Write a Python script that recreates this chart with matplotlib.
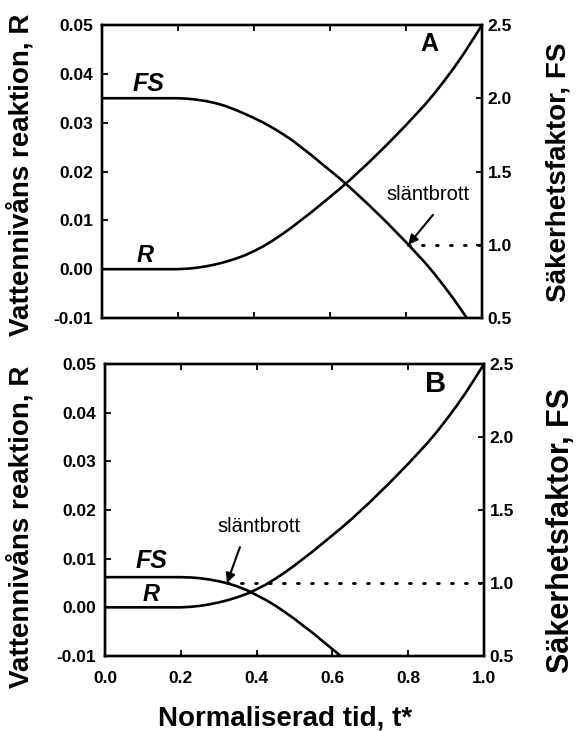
import matplotlib
matplotlib.use("Agg")
import matplotlib.pyplot as plt

plt.rcParams['font.family'] = ['Liberation Sans', 'DejaVu Sans']

# Normalised time grid and water-level response R (same in both cases)
t = [0.000, 0.050, 0.100, 0.150, 0.200, 0.225, 0.250, 0.275, 0.300, 0.325,
     0.350, 0.375, 0.400, 0.425, 0.450, 0.475, 0.500, 0.525, 0.550, 0.575,
     0.600, 0.625, 0.650, 0.675, 0.700, 0.725, 0.750, 0.775, 0.800, 0.825,
     0.850, 0.875, 0.900, 0.925, 0.950, 0.975, 1.000]
r = [0.0000, 0.0000, 0.0000, 0.0000, 0.0000, 0.0001, 0.0003, 0.0006, 0.0010,
     0.0015, 0.0021, 0.0028, 0.0037, 0.0047, 0.0059, 0.0072, 0.0086, 0.0101,
     0.0116, 0.0132, 0.0148, 0.0164, 0.0181, 0.0199, 0.0217, 0.0236, 0.0255,
     0.0275, 0.0295, 0.0316, 0.0337, 0.0360, 0.0385, 0.0411, 0.0439, 0.0469,
     0.0500]

# Factor of safety, case A
t_fs_a = [0.000, 0.050, 0.100, 0.150, 0.200, 0.225, 0.250, 0.275, 0.300,
          0.325, 0.350, 0.375, 0.400, 0.425, 0.450, 0.475, 0.500, 0.525,
          0.550, 0.575, 0.600, 0.625, 0.650, 0.675, 0.700, 0.725, 0.750,
          0.775, 0.800, 0.825, 0.850, 0.875, 0.900, 0.925, 0.950, 0.960]
fs_a = [2.000, 2.000, 2.000, 2.000, 2.000, 1.997, 1.990, 1.980, 1.966, 1.947,
        1.922, 1.895, 1.865, 1.833, 1.797, 1.757, 1.714, 1.664, 1.614, 1.560,
        1.507, 1.454, 1.397, 1.337, 1.277, 1.214, 1.151, 1.084, 1.018, 0.948,
        0.878, 0.801, 0.718, 0.631, 0.538, 0.500]

# Factor of safety, case B
t_fs_b = [0.000, 0.050, 0.100, 0.150, 0.200, 0.225, 0.250, 0.275, 0.300,
          0.325, 0.350, 0.375, 0.400, 0.425, 0.450, 0.475, 0.500, 0.525,
          0.550, 0.575, 0.600, 0.622]
fs_b = [1.040, 1.040, 1.040, 1.040, 1.040, 1.038, 1.033, 1.024, 1.012, 0.997,
        0.976, 0.950, 0.917, 0.883, 0.844, 0.800, 0.754, 0.704, 0.654, 0.600,
        0.547, 0.500]

# Failure points (FS = 1)
fail_t = [0.806, 0.322]
fail_fs = 1.0

r_ticks = [-0.01, 0.00, 0.01, 0.02, 0.03, 0.04, 0.05]
r_labels = ['-0.01', '0.00', '0.01', '0.02', '0.03', '0.04', '0.05']
fs_ticks = [0.5, 1.0, 1.5, 2.0, 2.5]
fs_labels = ['0.5', '1.0', '1.5', '2.0', '2.5']
t_ticks = [0.0, 0.2, 0.4, 0.6, 0.8, 1.0]
t_labels = ['0.0', '0.2', '0.4', '0.6', '0.8', '1.0']

W, H = 579, 731
fig = plt.figure(figsize=(W / 100, H / 100), dpi=100)


def box(x0, y0, x1, y1):
    return [x0 / W, 1 - y1 / H, (x1 - x0) / W, (y1 - y0) / H]


panels = [
    dict(rect=box(102, 25, 482, 318), fs_t=t_fs_a, fs=fs_a, fail=fail_t[0],
         letter='A', letter_pos=(0.861, 0.935), letter_size=18,
         fs_pos=(0.122, 0.799), r_pos=(0.113, 0.213),
         txt_pos=(0.857, 0.420), tail=(0.871, 0.352), xlabels=False),
    dict(rect=box(105, 364, 484, 656), fs_t=t_fs_b, fs=fs_b, fail=fail_t[1],
         letter='B', letter_pos=(0.873, 0.932), letter_size=21,
         fs_pos=(0.124, 0.324), r_pos=(0.121, 0.209),
         txt_pos=(0.405, 0.442), tail=(0.356, 0.373), xlabels=True),
]

lw = 1.9
for p in panels:
    ax = fig.add_axes(p['rect'])
    ax2 = ax.twinx()

    ax.plot(t, r, color='black', lw=lw, solid_capstyle='butt',
            solid_joinstyle='round')
    ax2.plot(p['fs_t'], p['fs'], color='black', lw=lw, solid_capstyle='butt',
             solid_joinstyle='round')
    ax2.plot([p['fail'], 1.0], [fail_fs, fail_fs], color='black', lw=2.1,
             linestyle=(0, (0.6, 4.2)), dash_capstyle='round')

    ax.set_xlim(0, 1)
    ax.set_ylim(-0.01, 0.05)
    ax2.set_ylim(0.5, 2.5)

    ax.set_xticks(t_ticks)
    ax.set_yticks(r_ticks)
    ax.set_yticklabels(r_labels)
    ax2.set_yticks(fs_ticks)
    ax2.set_yticklabels(fs_labels)
    if p['xlabels']:
        ax.set_xticklabels(t_labels)
    else:
        ax.set_xticklabels([])

    for a in (ax, ax2):
        for s in a.spines.values():
            s.set_linewidth(1.7)
    ax.tick_params(axis='both', direction='in', length=4.5, width=1.3,
                   top=True, labelsize=12.5)
    ax.tick_params(axis='y', pad=6.5)
    ax.tick_params(axis='x', pad=10.5)
    ax2.tick_params(axis='y', direction='in', length=4.5, width=1.3,
                    labelsize=12.5, pad=4)
    for lab in ax.get_xticklabels() + ax.get_yticklabels() + ax2.get_yticklabels():
        lab.set_fontweight('bold')

    ax.text(*p['letter_pos'], p['letter'], transform=ax.transAxes,
            ha='center', va='center', fontsize=p['letter_size'],
            fontweight='bold')
    ax.text(*p['fs_pos'], 'FS', transform=ax.transAxes, ha='center',
            va='center', fontsize=18, fontstyle='italic', fontweight='bold')
    ax.text(*p['r_pos'], 'R', transform=ax.transAxes, ha='center',
            va='center', fontsize=17, fontstyle='italic', fontweight='bold')
    ax.text(*p['txt_pos'], 'släntbrott', transform=ax.transAxes,
            ha='center', va='center', fontsize=14.5)
    ax2.annotate('', xy=(p['fail'], fail_fs), xycoords='data',
                 xytext=p['tail'], textcoords='axes fraction',
                 arrowprops=dict(arrowstyle='-|>', color='black', lw=1.5,
                                 mutation_scale=14, shrinkA=0, shrinkB=0))

# Axis titles
fig.text(21 / W, 1 - 175 / H, 'Vattennivåns reaktion, R', rotation=90,
         ha='center', va='center', fontsize=20, fontweight='bold')
fig.text(21 / W, 1 - 527 / H, 'Vattennivåns reaktion, R', rotation=90,
         ha='center', va='center', fontsize=20, fontweight='bold')
fig.text(559 / W, 1 - 172 / H, 'Säkerhetsfaktor, FS', rotation=90,
         ha='center', va='center', fontsize=20, fontweight='bold')
fig.text(561 / W, 1 - 530 / H, 'Säkerhetsfaktor, FS', rotation=90,
         ha='center', va='center', fontsize=22, fontweight='bold')
fig.text(285 / W, 1 - 718 / H, 'Normaliserad tid, t*', ha='center',
         va='center', fontsize=20, fontweight='bold')

fig.savefig('out.png', dpi=100)
